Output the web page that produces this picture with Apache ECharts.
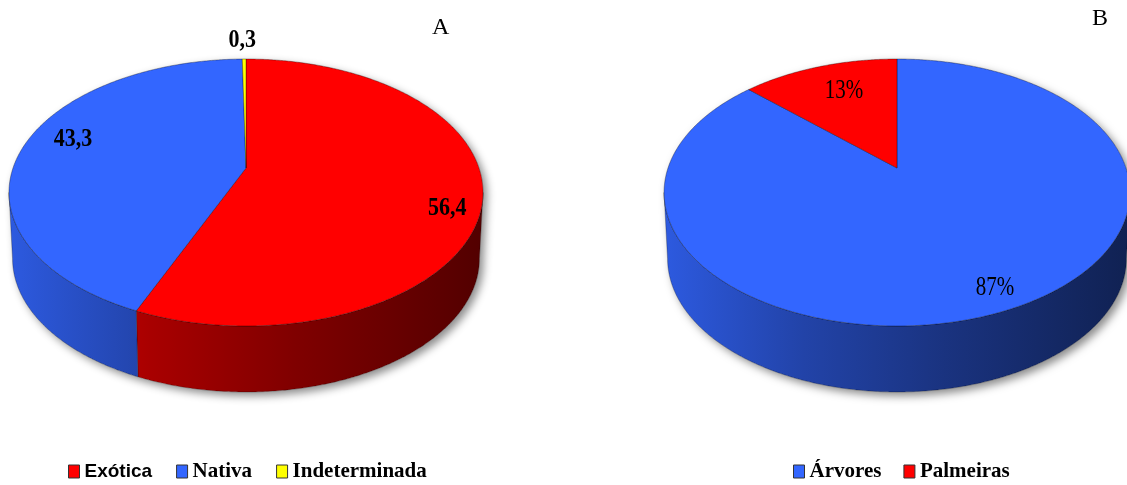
<!DOCTYPE html>
<html>
<head>
<meta charset="utf-8">
<script src="https://cdn.jsdelivr.net/npm/echarts@6/dist/echarts.min.js"></script>
<style>
  html, body { margin: 0; padding: 0; background: #ffffff; }
  #chart { width: 1127px; height: 485px; }
</style>
</head>
<body>
<div id="chart"></div>
<script>
// Origem das espécies (A) e forma de vida (B)
const categoriesA = ['Exótica', 'Nativa', 'Indeterminada'];
const valuesA = [56.4, 43.3, 0.3];
const categoriesB = ['Árvores', 'Palmeiras'];
const valuesB = [87, 13];

const fmtA = v => v.toFixed(1).replace('.', ',');
const fmtB = v => Math.round(v) + '%';

const serifFont = '"Liberation Serif", "Times New Roman", serif';
const sansFont = '"Liberation Sans", Arial, sans-serif';

// Geometry and styling of each 3D pie (perspective-projected disk)
const pieA = {
  categories: categoriesA, values: valuesA, format: fmtA,
  colors: ['#ff0000', '#3366ff', '#ffff00'],
  cx: 246, cy: 168, rx: 233, ry: 129, persp: 0.1835, depth: 66, bottomShrink: 0.985,
  labelFont: 'bold 22px ' + serifFont, labelScaleY: 1.12,
  labelNudge: [[13, 19], [5, -9], [-2, -18]]
};
const pieB = {
  categories: categoriesB, values: valuesB, format: fmtB,
  colors: ['#3366ff', '#ff0000'],
  cx: 897, cy: 168, rx: 229, ry: 129, persp: 0.1835, depth: 66, bottomShrink: 0.985,
  labelFont: 'normal 21px ' + serifFont, labelScaleY: 1.3,
  labelNudge: [[14, 10], [11, 6]]
};

function project(g, theta, r, bottom) {
  const u = r * Math.sin(theta);
  const v = -r * Math.cos(theta);
  const w = 1 - g.persp * v;
  let x = g.cx + g.rx * u / w;
  let y = g.cy + g.ry * v / w;
  if (bottom) {
    x = g.cx + (x - g.cx) * g.bottomShrink;
    y += g.depth;
  }
  return [x, y];
}

function arc(g, t0, t1, bottom) {
  const n = Math.max(2, Math.ceil(Math.abs(t1 - t0) / (Math.PI / 360)));
  const pts = [];
  for (let i = 0; i <= n; i++) {
    pts.push(project(g, t0 + (t1 - t0) * i / n, 1, bottom));
  }
  return pts;
}

function shade(hex, f) {
  const n = parseInt(hex.slice(1), 16);
  const r = Math.round(((n >> 16) & 255) * f);
  const gr = Math.round(((n >> 8) & 255) * f);
  const b = Math.round((n & 255) * f);
  return 'rgb(' + r + ',' + gr + ',' + b + ')';
}

function sideGradient(g, color) {
  const x0 = g.cx - g.rx * 1.02, x1 = g.cx + g.rx * 1.02;
  return new echarts.graphic.LinearGradient(x0, 0, x1, 0, [
    { offset: 0, color: shade(color, 0.88) },
    { offset: 0.3, color: shade(color, 0.66) },
    { offset: 0.6, color: shade(color, 0.5) },
    { offset: 1, color: shade(color, 0.32) }
  ], true);
}

function renderSlice(g, idx, api) {
  const total = g.values.reduce((s, v) => s + v, 0);
  let before = 0;
  for (let i = 0; i < idx; i++) before += g.values[i];
  const value = api.value(0);
  const t0 = 2 * Math.PI * before / total;
  const t1 = 2 * Math.PI * (before + value) / total;
  const color = g.colors[idx];
  const children = [];

  // the visible front rim lies between the two silhouette angles
  const vis0 = Math.acos(-g.persp);
  const vis1 = 2 * Math.PI - vis0;

  if (idx === 0) {
    // soft drop shadow under the whole cylinder
    const outline = arc(g, vis1, vis0 + 2 * Math.PI, false).concat(arc(g, vis0, vis1, true));
    children.push({
      type: 'polygon', shape: { points: outline },
      style: { fill: '#ffffff', shadowBlur: 9, shadowColor: 'rgba(0,0,0,0.45)', shadowOffsetX: 4, shadowOffsetY: 4 }
    });
  }

  const s0 = Math.max(t0, vis0), s1 = Math.min(t1, vis1);
  if (s1 > s0) {
    const side = arc(g, s0, s1, false).concat(arc(g, s0, s1, true).reverse());
    children.push({
      type: 'polygon', shape: { points: side },
      style: { fill: sideGradient(g, color), stroke: 'rgba(0,0,0,0.45)', lineWidth: 0.6 }
    });
  }

  const top = [[g.cx, g.cy]].concat(arc(g, t0, t1, false));
  children.push({
    type: 'polygon', shape: { points: top },
    style: { fill: color, stroke: 'rgba(0,0,0,0.55)', lineWidth: 0.6 }
  });

  const mid = (t0 + t1) / 2;
  const small = value / total < 0.02;
  const anchor = project(g, mid, small ? 1 : 0.8, false);
  const nudge = g.labelNudge[idx];
  children.push({
    type: 'text',
    x: anchor[0] + nudge[0], y: anchor[1] + nudge[1],
    scaleY: g.labelScaleY,
    style: {
      text: g.format(value), font: g.labelFont, fill: '#000000',
      align: 'center', verticalAlign: 'middle'
    }
  });

  return { type: 'group', children: children };
}

function pieSeries(g) {
  return g.categories.map((name, idx) => ({
    type: 'custom',
    name: name,
    coordinateSystem: 'none',
    itemStyle: { color: g.colors[idx] },
    data: [[g.values[idx]]],
    renderItem: (params, api) => renderSlice(g, idx, api)
  }));
}

const legendText = {
  fontFamily: serifFont, fontWeight: 'bold', fontSize: 21, color: '#000000',
  rich: { s: { fontFamily: sansFont, fontWeight: 'bold', fontSize: 19, color: '#000000' } }
};
const legendIcon = { borderColor: '#333333', borderWidth: 1 };

const chart = echarts.init(document.getElementById('chart'), null, { renderer: 'canvas' });
chart.setOption({
  backgroundColor: '#ffffff',
  animation: false,
  title: [
    { text: 'A', left: 432, top: 16, padding: 0,
      textStyle: { fontFamily: serifFont, fontWeight: 'normal', fontSize: 24, color: '#000000' } },
    { text: 'B', left: 1092, top: 7, padding: 0,
      textStyle: { fontFamily: serifFont, fontWeight: 'normal', fontSize: 24, color: '#000000' } }
  ],
  legend: [
    {
      data: categoriesA, left: 68, top: 461, padding: 0,
      itemWidth: 11, itemHeight: 13, itemGap: 24, icon: 'rect', selectedMode: false,
      itemStyle: legendIcon, textStyle: legendText,
      formatter: name => (name === 'Exótica' ? '{s|' + name + '}' : name)
    },
    {
      data: categoriesB, left: 793, top: 461, padding: 0,
      itemWidth: 11, itemHeight: 13, itemGap: 22, icon: 'rect', selectedMode: false,
      itemStyle: legendIcon, textStyle: legendText
    }
  ],
  series: pieSeries(pieA).concat(pieSeries(pieB))
});
</script>
</body>
</html>
